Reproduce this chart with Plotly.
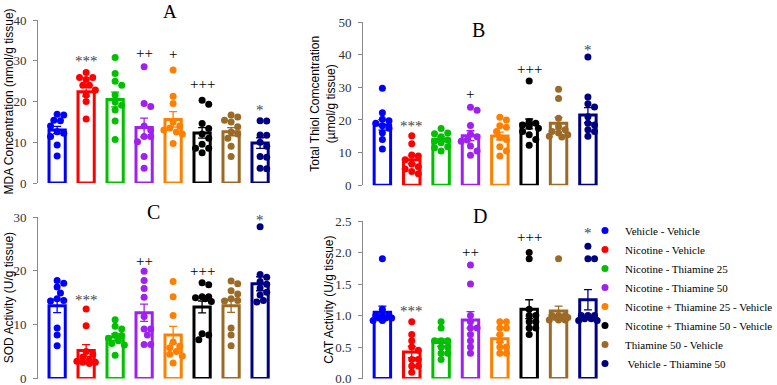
import plotly.graph_objects as go

# ---------------- data ----------------
groups = ["Vehicle - Vehicle", "Nicotine - Vehicle", "Nicotine - Thiamine 25",
          "Nicotine - Thiamine 50", "Nicotine + Thiamine 25 - Vehicle",
          "Nicotine + Thiamine 50 - Vehicle", "Thiamine 50 - Vehicle",
          " Vehicle - Thiamine 50"]
colors = ["#0000FF", "#FF0000", "#00C000", "#A020F0", "#FF8000",
          "#000000", "#9C6A27", "#000080"]

# Panel A: MDA (nmol/g tissue)
mda_mean = [13.0, 22.4, 20.5, 13.6, 15.6, 12.3, 12.6, 9.8]
mda_sem = [0.9, 1.1, 1.8, 2.3, 1.9, 1.3, 1.0, 1.3]
mda_points = [
    [16.9, 16.7, 15.4, 15.3, 14.0, 12.6, 12.2, 11.4, 9.3, 6.6],
    [27.1, 25.9, 25.9, 25.4, 24.0, 24.0, 22.8, 21.6, 20.0, 15.7],
    [30.8, 26.9, 25.0, 24.0, 21.6, 19.9, 19.1, 17.9, 15.2, 10.7],
    [28.5, 19.5, 18.8, 14.0, 13.0, 11.4, 11.4, 10.1, 6.5, 3.6],
    [27.7, 21.3, 19.5, 15.0, 14.0, 13.5, 13.0, 12.5, 12.0, 9.7],
    [20.3, 19.3, 14.6, 13.4, 12.0, 11.0, 9.5, 8.5, 8.5, 7.4],
    [16.7, 16.2, 15.4, 15.0, 13.8, 12.5, 12.0, 11.0, 9.0, 6.5],
    [15.3, 15.2, 11.8, 11.7, 10.0, 9.0, 6.5, 6.3, 3.6, 3.5],
]
mda_sig = ["", "***", "", "++", "+", "+++", "", "*"]
mda_sig_y = [0, 30.6, 0, 31.8, 31.6, 24.4, 0, 18.6]

# Panel B: Total thiol (umol/g tissue)
thiol_mean = [18.5, 7.8, 14.1, 15.2, 15.1, 18.8, 19.0, 21.5]
thiol_sem = [1.6, 1.2, 0.7, 1.5, 1.2, 1.5, 1.8, 2.3]
thiol_points = [
    [29.7, 22.2, 20.2, 19.8, 19.0, 18.2, 17.5, 16.1, 14.0, 11.1],
    [15.2, 12.7, 9.3, 9.0, 7.8, 6.5, 5.7, 5.0, 4.2, 3.5],
    [17.4, 16.0, 15.8, 14.9, 13.9, 13.5, 13.0, 11.8, 11.5, 10.5],
    [23.9, 23.0, 18.3, 15.6, 14.9, 13.9, 13.5, 12.0, 10.5, 9.2],
    [20.8, 20.0, 18.2, 17.8, 16.5, 14.6, 14.0, 11.8, 10.5, 9.0],
    [31.9, 19.5, 19.0, 18.5, 18.0, 17.5, 16.5, 15.5, 14.0, 12.3],
    [29.4, 26.6, 20.5, 18.0, 17.0, 16.5, 16.0, 15.5, 15.0, 14.8],
    [39.3, 27.0, 25.0, 24.0, 21.0, 19.0, 18.5, 17.0, 16.5, 15.0],
]
thiol_sig = ["", "***", "", "+", "", "+++", "", "*"]
thiol_sig_y = [0, 19.0, 0, 27.9, 0, 35.7, 0, 42.5]

# Panel C: SOD (U/g tissue)
sod_mean = [13.5, 5.2, 7.7, 12.2, 8.1, 13.3, 13.5, 17.6]
sod_sem = [1.25, 1.1, 0.6, 1.6, 1.6, 1.1, 1.2, 1.3]
sod_points = [
    [18.2, 17.7, 17.0, 15.9, 14.8, 14.5, 14.4, 9.4, 8.1, 6.1],
    [12.9, 9.8, 5.0, 4.5, 4.0, 3.5, 3.2, 3.0, 3.0, 2.8],
    [10.9, 9.7, 9.2, 8.1, 8.0, 7.5, 7.0, 6.5, 6.2, 4.3],
    [19.9, 18.2, 16.7, 15.1, 11.5, 9.2, 9.2, 8.1, 6.3, 6.3],
    [18.0, 15.2, 11.7, 6.8, 6.0, 5.7, 5.0, 4.5, 4.2, 2.9],
    [17.8, 17.4, 15.2, 15.2, 15.0, 14.8, 14.3, 8.3, 8.1, 7.2],
    [18.1, 17.6, 16.3, 15.7, 14.8, 14.5, 14.4, 9.4, 8.1, 6.1],
    [28.2, 19.3, 18.8, 18.0, 17.5, 16.8, 16.0, 15.5, 14.5, 14.2],
]
sod_sig = ["", "***", "", "++", "", "+++", "", "*"]
sod_sig_y = [0, 15.2, 0, 21.9, 0, 19.9, 0, 30.0]

# Panel D: CAT (U/g tissue)
cat_mean = [1.05, 0.42, 0.57, 0.93, 0.63, 1.10, 1.07, 1.25]
cat_sem = [0.10, 0.09, 0.06, 0.13, 0.06, 0.15, 0.08, 0.16]
cat_points = [
    [1.9, 1.1, 1.0, 1.0, 1.0, 0.96, 0.96, 0.96, 0.92, 0.92],
    [0.9, 0.7, 0.6, 0.5, 0.45, 0.3, 0.3, 0.2, 0.2, 0.1],
    [0.9, 0.8, 0.6, 0.6, 0.6, 0.5, 0.5, 0.4, 0.4, 0.3],
    [1.8, 1.5, 1.0, 0.9, 0.8, 0.8, 0.7, 0.6, 0.5, 0.4],
    [0.9, 0.9, 0.8, 0.8, 0.7, 0.6, 0.5, 0.5, 0.4, 0.4],
    [2.0, 1.9, 1.1, 1.0, 1.0, 0.9, 0.9, 0.8, 0.8, 0.7],
    [1.9, 1.0, 1.0, 1.0, 0.97, 0.97, 0.97, 0.93, 0.93, 0.93],
    [2.1, 1.9, 1.9, 1.0, 1.0, 1.0, 0.95, 0.95, 0.92, 0.92],
]
cat_sig = ["", "***", "", "++", "", "+++", "", "*"]
cat_sig_y = [0, 1.12, 0, 2.01, 0, 2.25, 0, 2.35]

# ---------------- layout helpers ----------------
W, H = 777, 385
SERIF = "Liberation Serif, Times New Roman, serif"
SANS = "Liberation Sans, Arial, sans-serif"
XR = [-0.66, 7.5]


def fx(p):
    return p / W


def fy(p):
    return 1 - p / H


panels = [
    dict(name="A", mean=mda_mean, sem=mda_sem, pts=mda_points, sig=mda_sig, sigy=mda_sig_y,
         x0=38, x1=274.6, ytop=20, ybot=183, ymax=40, ticks=[0, 10, 20, 30, 40], fmt="",
         title="MDA Concentration (nmol/g tissue)", tx=8, letter_xy=(170, 11), letter_size=19),
    dict(name="B", mean=thiol_mean, sem=thiol_sem, pts=thiol_points, sig=thiol_sig, sigy=thiol_sig_y,
         x0=363, x1=602.6, ytop=22, ybot=185.3, ymax=50, ticks=[0, 10, 20, 30, 40, 50], fmt="",
         title="Total Thiol Comcentration<br>(µmol/g tissue)", tx=323, letter_xy=(478.5, 30), letter_size=20),
    dict(name="C", mean=sod_mean, sem=sod_sem, pts=sod_points, sig=sod_sig, sigy=sod_sig_y,
         x0=38, x1=274.6, ytop=217, ybot=378.5, ymax=30, ticks=[0, 10, 20, 30], fmt="",
         title="SOD Activity (U/g tissue)", tx=8.5, letter_xy=(153, 212), letter_size=20),
    dict(name="D", mean=cat_mean, sem=cat_sem, pts=cat_points, sig=cat_sig, sigy=cat_sig_y,
         x0=363, x1=602.6, ytop=221, ybot=378.5, ymax=2.5, ticks=[0, 0.5, 1.0, 1.5, 2.0, 2.5], fmt=".1f",
         title="CAT Activity (U/g tissue)", tx=329, letter_xy=(479.5, 215.5), letter_size=20),
]


def swarm(vals, ppu_y, ppu_x, d=6.6):
    """Simple beeswarm: horizontal offsets (data units) avoiding overlap."""
    order = sorted(range(len(vals)), key=lambda i: -vals[i])
    placed = []
    res = [0.0] * len(vals)
    cands = [0, 0.5, -0.5, 1, -1, 1.4, -1.4]
    for i in order:
        ypx = vals[i] * ppu_y
        best, best_gap = cands[0], -1.0
        for c in cands:
            xpx = c * d
            gap = min([((xpx - a) ** 2 + (ypx - b) ** 2) ** 0.5 for a, b in placed] or [99.0])
            if gap >= d * 0.95:
                best = c
                break
            if gap > best_gap:
                best, best_gap = c, gap
        placed.append((best * d, ypx))
        res[i] = best * d / ppu_x
    return res


fig = go.Figure()
layout = dict(width=W, height=H, margin=dict(l=0, r=0, t=0, b=0, pad=0, autoexpand=False),
              paper_bgcolor="white", plot_bgcolor="white",
              barmode="overlay", showlegend=True)
annotations = []

for k, p in enumerate(panels):
    sfx = "" if k == 0 else str(k + 1)
    xa, ya = "x" + sfx, "y" + sfx
    ppu_x = (p["x1"] - p["x0"]) / (XR[1] - XR[0])
    ppu_y = (p["ybot"] - p["ytop"]) / p["ymax"]
    layout["xaxis" + sfx] = dict(domain=[fx(p["x0"]), fx(p["x1"])], range=XR, visible=False,
                                 anchor=ya, fixedrange=True)
    layout["yaxis" + sfx] = dict(domain=[fy(p["ybot"]), fy(p["ytop"])], range=[0, p["ymax"]],
                                 anchor=xa, tickvals=p["ticks"], tickformat=p["fmt"],
                                 showline=True, linecolor="#8a8a8a", linewidth=1,
                                 ticks="outside", ticklen=4, tickcolor="#8a8a8a",
                                 ticklabeloverflow="allow", ticklabelstandoff=4,
                                 tickfont=dict(family=SERIF, size=13, color="#333333"),
                                 showgrid=False, zeroline=False, fixedrange=True)
    for g in range(8):
        c = colors[g]
        fig.add_trace(go.Bar(x=[g], y=[p["mean"][g]], width=0.56, xaxis=xa, yaxis=ya,
                             marker=dict(color="white", line=dict(color=c, width=3)),
                             error_y=dict(type="data", array=[p["sem"][g]], color=c,
                                          thickness=1.3, width=4),
                             showlegend=False, hoverinfo="skip"))
    for g in range(8):
        c = colors[g]
        vals = p["pts"][g]
        offs = swarm(vals, ppu_y, ppu_x)
        fig.add_trace(go.Scatter(x=[g + o for o in offs], y=vals, mode="markers",
                                 xaxis=xa, yaxis=ya, cliponaxis=False,
                                 marker=dict(color=c, size=7, line=dict(width=0)),
                                 showlegend=False, hoverinfo="skip"))
        if p["sig"][g]:
            is_star = "*" in p["sig"][g]
            annotations.append(dict(x=g, y=p["sigy"][g], xref=xa, yref=ya,
                                    text=p["sig"][g], showarrow=False,
                                    xanchor="center", yanchor="middle",
                                    yshift=-3 if is_star else 0,
                                    font=dict(family=SERIF, size=15,
                                              color="#444444" if is_star else "#000000")))
    # panel letter
    lx, ly = p["letter_xy"]
    annotations.append(dict(x=fx(lx), y=fy(ly), xref="paper", yref="paper", text=p["name"],
                            showarrow=False, xanchor="center", yanchor="middle",
                            font=dict(family=SERIF, size=p["letter_size"], color="#000000")))
    # y-axis title
    annotations.append(dict(x=fx(p["tx"]), y=fy((p["ytop"] + p["ybot"]) / 2), xref="paper",
                            yref="paper", text=p["title"], showarrow=False, textangle=-90,
                            xanchor="center", yanchor="middle",
                            font=dict(family=SANS, size=12, color="#000000")))

# legend entries
for g in range(8):
    fig.add_trace(go.Scatter(x=[None], y=[None], mode="markers", name=groups[g],
                             marker=dict(color=colors[g], size=7),
                             legendgroup="g%d" % g, showlegend=True, hoverinfo="skip"))

layout["legend"] = dict(x=fx(585), y=fy(216), xanchor="left", yanchor="top",
                        bgcolor="rgba(0,0,0,0)", borderwidth=0, tracegroupgap=0,
                        font=dict(family=SERIF, size=11, color="#000000"),
                        itemclick=False, itemdoubleclick=False)
layout["annotations"] = annotations
fig.update_layout(**layout)
fig.write_html("out.html", config={"displayModeBar": False},
               post_script="document.body.style.margin='0';document.body.style.overflow='hidden';")
